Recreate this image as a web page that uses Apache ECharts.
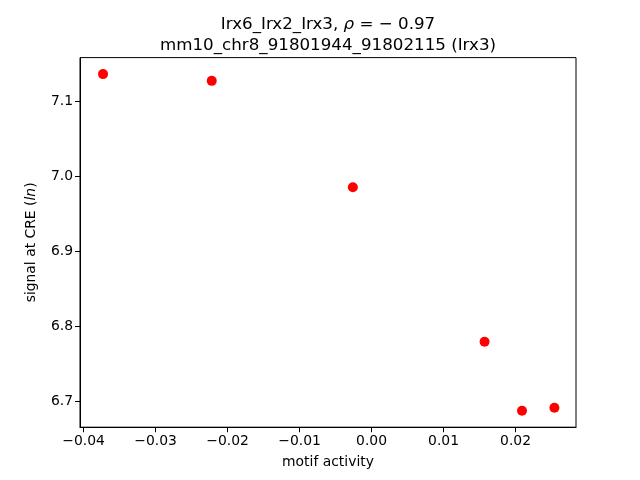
<!DOCTYPE html>
<html><head><meta charset="utf-8">
<script src="https://cdn.jsdelivr.net/npm/echarts@6/dist/echarts.min.js"></script>
<style>html,body{margin:0;padding:0;background:#fff}#c{width:640px;height:480px}</style>
</head><body><div id="c"></div>
<script>
const motifActivity = [-0.0373, -0.0222, -0.0026, 0.0157, 0.0209, 0.0254];
const signalAtCRE = [7.136, 7.127, 6.985, 6.779, 6.687, 6.691];
const xTicks = [-0.04, -0.03, -0.02, -0.01, 0.00, 0.01, 0.02];
const yTicks = [6.7, 6.8, 6.9, 7.0, 7.1];
const titleLine1 = "Irx6_Irx2_Irx3, ";
const titleRho = "\u03c1";
const titleLine1b = " = \u2212 0.97";
const titleLine2 = "mm10_chr8_91801944_91802115 (Irx3)";

const points = motifActivity.map((x, i) => [x, signalAtCRE[i]]);
const font = "DejaVu Sans";
const chart = echarts.init(document.getElementById('c'), null, {renderer: 'canvas'});
chart.setOption({
  animation: false,
  backgroundColor: '#fff',
  title: {
    text: '{n|' + titleLine1 + '}{i|' + titleRho + '}{n|' + titleLine1b + '}\n{n|' + titleLine2 + '}',
    left: 323, top: 9, textAlign: 'center',
    textStyle: {
      fontWeight: 'normal',
      rich: {
        n: {fontFamily: font, fontWeight: 'normal', fontSize: 16.7, color: '#000', lineHeight: 21},
        i: {fontFamily: font, fontWeight: 'normal', fontStyle: 'italic', fontSize: 16.7, color: '#000', lineHeight: 21}
      }
    }
  },
  grid: {left: 80, right: 64, top: 57.6, bottom: 52.8, show: true, borderColor: '#000', borderWidth: 1, backgroundColor: '#fff'},
  xAxis: {
    type: 'value', min: -0.0405, max: 0.0284,
    name: 'motif activity', nameLocation: 'middle', nameGap: 28,
    nameTextStyle: {fontFamily: font, fontSize: 13.9, color: '#000'},
    axisLine: {show: true, onZero: false, lineStyle: {color: '#000', width: 1}},
    splitLine: {show: false},
    axisTick: {show: true, length: 5, lineStyle: {color: '#000'}, customValues: xTicks},
    axisLabel: {fontFamily: font, fontSize: 13.9, color: '#000', margin: 7, customValues: xTicks,
      formatter: v => (v < 0 ? '\u2212' : '') + Math.abs(v).toFixed(2)}
  },
  yAxis: {
    type: 'value', min: 6.665, max: 7.158,
    name: 'signal at CRE ({i|ln})', nameLocation: 'middle', nameGap: 42,
    nameTextStyle: {fontFamily: font, fontSize: 13.9, color: '#000',
      rich: {i: {fontFamily: font, fontStyle: 'italic', fontSize: 13.9, color: '#000'}}},
    axisLine: {show: true, onZero: false, lineStyle: {color: '#000', width: 1}},
    splitLine: {show: false},
    axisTick: {show: true, length: 5, lineStyle: {color: '#000'}, customValues: yTicks},
    axisLabel: {fontFamily: font, fontSize: 13.9, color: '#000', margin: 7, customValues: yTicks,
      formatter: v => v.toFixed(1)}
  },
  series: [{
    type: 'scatter', data: points, symbol: 'circle', symbolSize: 10,
    itemStyle: {color: '#ff0000', opacity: 1}
  }]
});
</script></body></html>
